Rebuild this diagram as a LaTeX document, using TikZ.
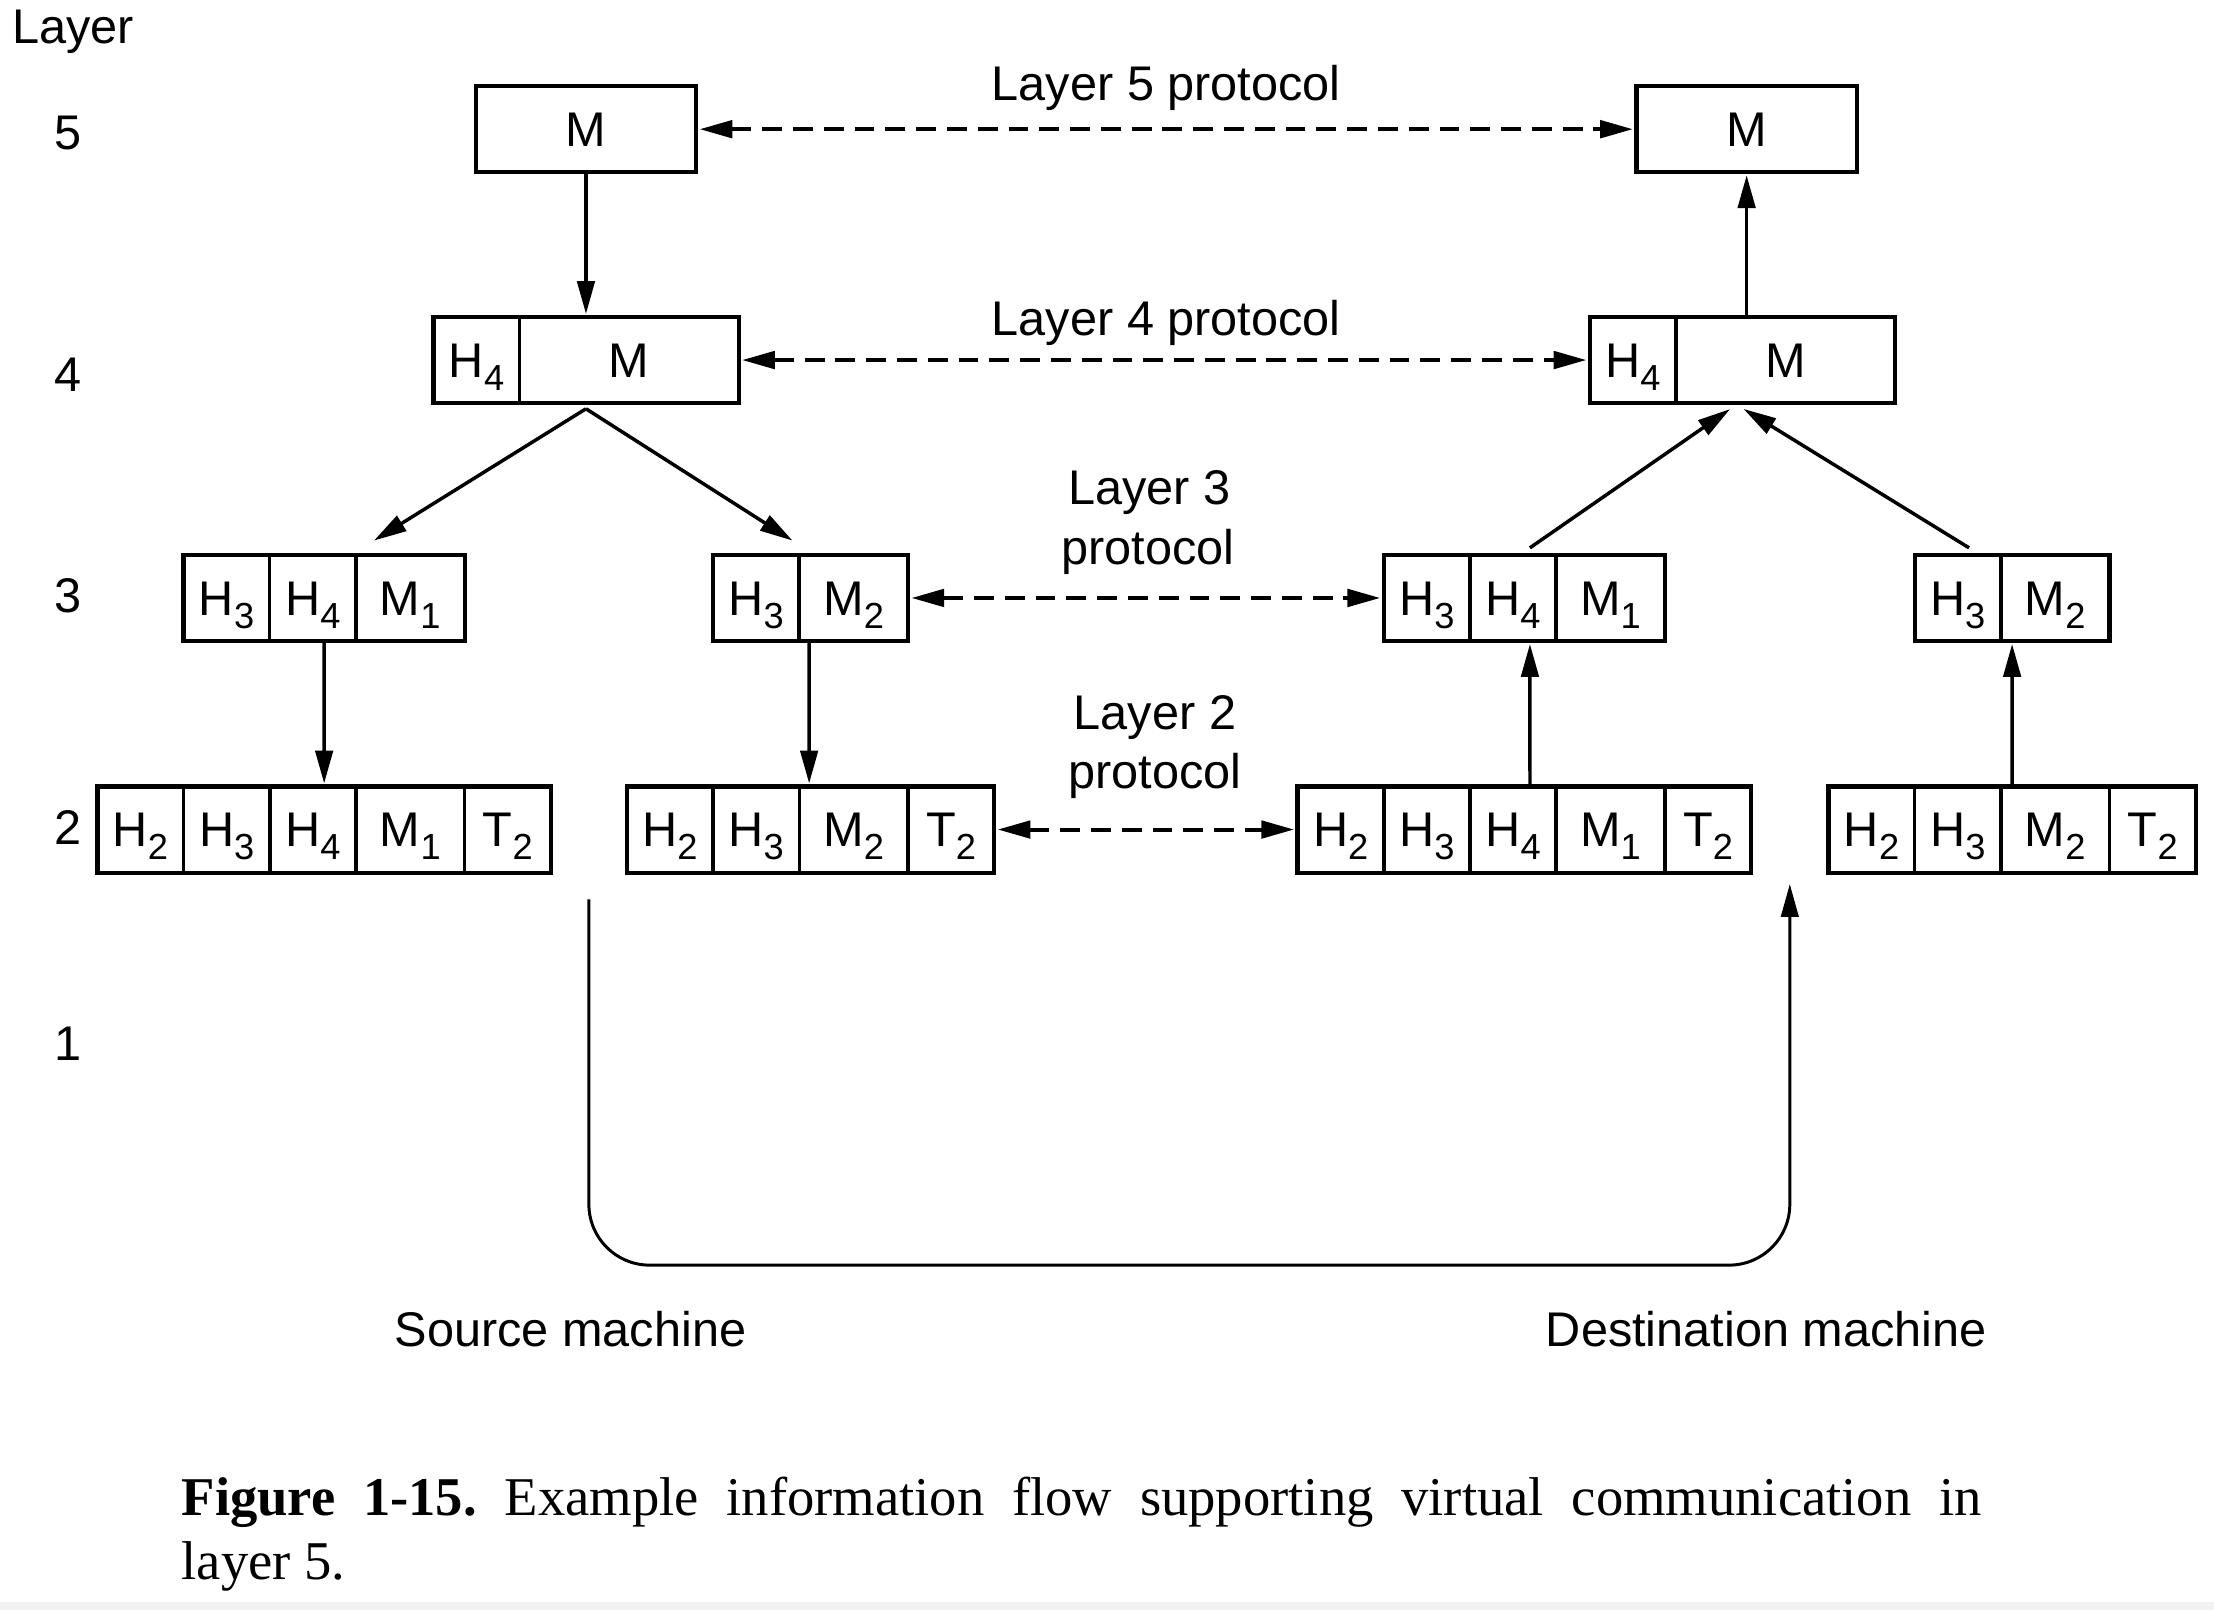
\documentclass[tikz,border=0pt]{standalone}
\usepackage{fontspec}
\setmainfont{Liberation Sans}
\newfontfamily\captionfont{Liberation Serif}
\usetikzlibrary{arrows.meta}
\usetikzlibrary{positioning}
\usetikzlibrary{calc}
\newcommand{\subno}[1]{\raisebox{-2.6pt}{\fontsize{7.3}{8}\selectfont #1}}
\tikzset{>={Triangle[length=6.6pt, width=3.5pt]}}
\tikzset{cell/.style = {draw, line width=0.7pt, inner sep=0, outer sep=0,
                        minimum height=0.61cm, text height=6.9pt, text depth=0pt}}
\tikzset{hcell/.style = {cell, minimum width=0.61cm}}
\tikzset{mcell/.style = {cell, minimum width=0.77cm}}
\tikzset{wcell/.style = {cell, minimum width=1.55cm}}
\tikzset{boxframe/.style = {line width=0.85pt}}
\tikzset{arr/.style = {->, line width=0.7pt, shorten >=0.6pt}}
\tikzset{proto/.style = {<->, line width=0.8pt, dash pattern=on 4pt off 2.2pt,
                         shorten >=0.7pt, shorten <=0.7pt}}
\tikzset{lbl/.style = {anchor=base, inner sep=0}}

\begin{document}
\begin{tikzpicture}[x=0.01cm, y=-0.01cm, node distance=0pt,
                    font=\fontsize{9.8}{12}\selectfont]
    \useasboundingbox (0, 0) rectangle (1568, 1140);
    \fill [gray!10] (0, 1134.3) rectangle (1568, 1140);

    % layer numbers
    \node [lbl, anchor=base west] (layer) at (8, 30.7) {Layer};
    \node [lbl] (n5) at (48, 106.2) {5};
    \node [lbl] (n4) at (48, 277.4) {4};
    \node [lbl] (n3) at (48, 433.9) {3};
    \node [lbl] (n2) at (48, 598.4) {2};
    \node [lbl] (n1) at (48, 751) {1};

    % source machine
    \node [wcell, minimum width=1.56cm] (s5) at (415, 91.5) {M};
    \node [hcell] (s4h) at (337.5, 255) {H\subno{4}};
    \node [wcell, right=of s4h] (s4m) {M};
    \node [hcell] (s3a1) at (160.5, 423.5) {H\subno{3}};
    \node [hcell, right=of s3a1] (s3a2) {H\subno{4}};
    \node [mcell, right=of s3a2] (s3a3) {M\subno{1}};
    \node [hcell] (s3b1) at (535.5, 423.5) {H\subno{3}};
    \node [mcell, right=of s3b1] (s3b2) {M\subno{2}};
    \node [hcell] (s2a1) at (99.5, 587.5) {H\subno{2}};
    \node [hcell, right=of s2a1] (s2a2) {H\subno{3}};
    \node [hcell, right=of s2a2] (s2a3) {H\subno{4}};
    \node [mcell, right=of s2a3] (s2a4) {M\subno{1}};
    \node [hcell, right=of s2a4] (s2a5) {T\subno{2}};
    \node [hcell] (s2b1) at (474.5, 587.5) {H\subno{2}};
    \node [hcell, right=of s2b1] (s2b2) {H\subno{3}};
    \node [mcell, right=of s2b2] (s2b3) {M\subno{2}};
    \node [hcell, right=of s2b3] (s2b4) {T\subno{2}};

    % destination machine
    \node [wcell, minimum width=1.56cm] (d5) at (1237, 91.5) {M};
    \node [hcell] (d4h) at (1156.5, 255) {H\subno{4}};
    \node [wcell, right=of d4h] (d4m) {M};
    \node [hcell] (d3a1) at (1010.5, 423.5) {H\subno{3}};
    \node [hcell, right=of d3a1] (d3a2) {H\subno{4}};
    \node [mcell, right=of d3a2] (d3a3) {M\subno{1}};
    \node [hcell] (d3b1) at (1386.5, 423.5) {H\subno{3}};
    \node [mcell, right=of d3b1] (d3b2) {M\subno{2}};
    \node [hcell] (d2a1) at (949.5, 587.5) {H\subno{2}};
    \node [hcell, right=of d2a1] (d2a2) {H\subno{3}};
    \node [hcell, right=of d2a2] (d2a3) {H\subno{4}};
    \node [mcell, right=of d2a3] (d2a4) {M\subno{1}};
    \node [hcell, right=of d2a4] (d2a5) {T\subno{2}};
    \node [hcell] (d2b1) at (1325.5, 587.5) {H\subno{2}};
    \node [hcell, right=of d2b1] (d2b2) {H\subno{3}};
    \node [mcell, right=of d2b2] (d2b3) {M\subno{2}};
    \node [hcell, right=of d2b3] (d2b4) {T\subno{2}};

    % heavier outline round each packet
    \foreach \a/\b in {s5/s5, d5/d5, s4h/s4m, d4h/d4m, s3a1/s3a3, s3b1/s3b2,
                       d3a1/d3a3, d3b1/d3b2, s2a1/s2a5, s2b1/s2b4, d2a1/d2a5, d2b1/d2b4}
        \draw [boxframe] (\a.north west) rectangle (\b.south east);

    % going down on the source machine
    \draw [arr] (s5) -- (s5 |- s4m.north);
    \coordinate (s4out) at ($(s5 |- s4m.south)+(0, 4)$);
    \draw [arr] (s4out) -- ($(s3a3.north west)+(11, -9)$);
    \draw [arr] (s4out) -- ($(s3b2.north west)+(-3, -9)$);
    \draw [arr] ($(s3a2.south)+(8, 0)$) -- ($(s2a3.north)+(8, 0)$);
    \draw [arr] ($(s3b2.south west)+(7, 0)$) -- ($(s2b3.north west)+(7, 0)$);

    % going up on the destination machine
    \draw [arr] ($(d2a3.north)+(12, 0)$) -- ($(d3a2.south)+(12, 0)$);
    \draw [arr] ($(d2b3.north west)+(8, 0)$) -- ($(d3b2.south west)+(8, 0)$);
    \draw [arr] ($(d3a2.north)+(12, -5)$) -- ($(d4m.south west)+(40, 3)$);
    \draw [arr] ($(d3b1.north)+(8, -5)$) -- ($(d4m.south west)+(46, 3)$);
    \draw [arr] (d5 |- d4m.north) -- (d5);

    % physical medium
    \coordinate (down) at ($(s2a5.south east)!0.5!(s2b1.south west)+(0, 19)$);
    \coordinate (up) at ($(d2a5.south east)!0.5!(d2b1.south west)+(0, 6)$);
    \coordinate (floor) at (0, 896);
    \draw [arr, line width=0.6pt, rounded corners=0.43cm]
        (down) -- (down |- floor) -- (up |- floor) -- (up);

    % peer protocols
    \draw [proto] (s5) -- (d5);
    \draw [proto] (s4m) -- (d4h);
    \draw [proto] (s3b2) -- (d3a1);
    \draw [proto] (s2b4) -- (d2a1);
    \node [lbl] (p5) at (826, 71.4) {Layer 5 protocol};
    \node [lbl] (p4) at (826, 237.7) {Layer 4 protocol};
    \node [lbl] (p3a) at (814, 357.2) {Layer 3};
    \node [lbl] (p3b) at (813, 400) {protocol};
    \node [lbl] (p2a) at (818, 516.6) {Layer 2};
    \node [lbl] (p2b) at (818, 558.3) {protocol};

    \node [lbl] (src) at (404, 953.8) {Source machine};
    \node [lbl] (dst) at (1251, 953.8) {Destination machine};

    % caption
    \node [anchor=base west, inner sep=0, font=\captionfont\fontsize{11}{13}\selectfont\frenchspacing]
        (cap1) at (128, 1073.5)
        {\makebox[12.74cm][s]{\textbf{Figure 1-15.} Example information flow supporting virtual communication in}};
    \node [anchor=base west, inner sep=0, font=\captionfont\fontsize{11}{13}\selectfont]
        (cap2) at (128, 1118.6) {layer 5.};
\end{tikzpicture}
\end{document}
